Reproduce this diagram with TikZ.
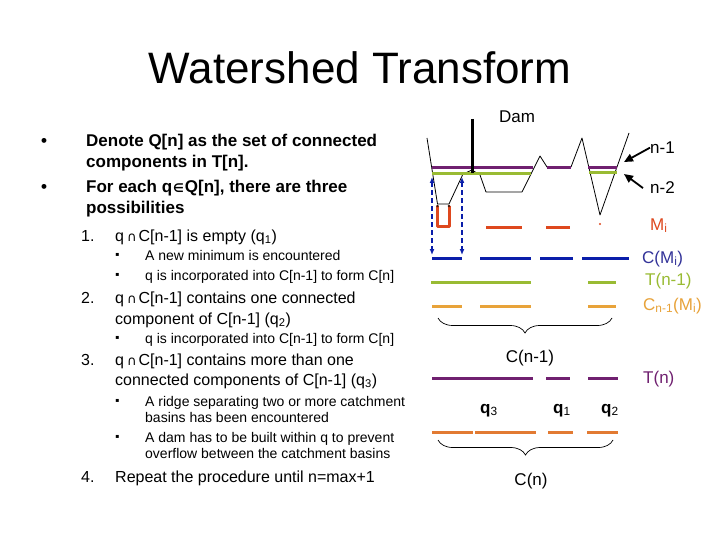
\documentclass[tikz,border=0pt]{standalone}
\usepackage{fontspec}
\setmainfont{Liberation Sans}
\newfontfamily\symfont{DejaVu Sans}
\usepackage{xcolor}
\definecolor{levelpurple}{RGB}{112, 32, 112}
\definecolor{levelgreen}{RGB}{153, 187, 51}
\definecolor{markblue}{RGB}{10, 30, 170}
\definecolor{labelnavy}{RGB}{51, 51, 153}
\definecolor{minred}{RGB}{222, 72, 30}
\definecolor{lightorange}{RGB}{232, 163, 58}
\definecolor{deeporange}{RGB}{226, 122, 50}
\usepackage{tikz}
\usetikzlibrary{arrows.meta,decorations.pathreplacing}
\newcommand{\qcap}{\kern3pt{\symfont\fontsize{13}{13}\selectfont ∩}\kern2pt}
\newcommand{\qin}{\kern1pt{\symfont\fontsize{12}{12}\selectfont ∈}\kern1pt}

\begin{document}
\begin{tikzpicture}[x=1pt, y=-1pt,
    head/.style={anchor=base, inner sep=0pt, font=\fontsize{44}{50}\selectfont},
    ltop/.style={anchor=base west, inner sep=0pt, font=\fontsize{17}{20}\selectfont\bfseries},
    lmid/.style={anchor=base west, inner sep=0pt, font=\fontsize{16}{19}\selectfont},
    llow/.style={anchor=base west, inner sep=0pt, font=\fontsize{14}{16}\selectfont},
    sqbul/.style={inner sep=0pt, font=\symfont\fontsize{6}{6}\selectfont},
    tag/.style={anchor=base west, inner sep=0pt, font=\fontsize{17}{20}\selectfont},
    terrain/.style={black, line width=0.8pt, line join=round},
    surface/.style={line width=3pt},
    gate/.style={markblue, line width=1.4pt, dash pattern=on 5pt off 3pt, {Latex[length=6pt,width=5pt]}-{Latex[length=6pt,width=5pt]}},
    ptr/.style={line width=1.8pt, -{Triangle[length=9pt,width=8pt]}},
    brc/.style={decorate, decoration={brace, mirror, amplitude=15pt}, line width=0.7pt}
]
    \path[fill=white] (0,0) rectangle (720,540);

    % Title
    \node[head] (title) at (360,84) {Watershed Transform};

    % Main bullets
    \node[ltop] (b1) at (41,147) {•};
    \node[ltop] (t1a) at (86,147) {Denote Q[n] as the set of connected};
    \node[ltop] (t1b) at (86,168) {components in T[n].};
    \node[ltop] (b2) at (41,193) {•};
    \node[ltop] (t2a) at (86,193) {For each q\qin Q[n], there are three};
    \node[ltop] (t2b) at (86,214) {possibilities};

    % Numbered cases
    \node[lmid] (n1) at (81,241) {1.};
    \node[lmid] (i1) at (115,241) {q\qcap C[n-1] is empty (q\textsubscript{1})};
    \node[lmid] (n2) at (81,303) {2.};
    \node[lmid] (i2a) at (115,303) {q\qcap C[n-1] contains one connected};
    \node[lmid] (i2b) at (115,324) {component of C[n-1] (q\textsubscript{2})};
    \node[lmid] (n3) at (81,365) {3.};
    \node[lmid] (i3a) at (115,365) {q\qcap C[n-1] contains more than one};
    \node[lmid] (i3b) at (115,385) {connected components of C[n-1] (q\textsubscript{3})};
    \node[lmid] (n4) at (81,482) {4.};
    \node[lmid] (i4) at (115,482) {Repeat the procedure until n=max+1};

    % Sub bullets
    \foreach \yb [count=\k] in {255,275,338,401,437}
        \node[sqbul] (sb\k) at (117.5,\yb) {▪};
    \node[llow] (s1) at (145,260) {A new minimum is encountered};
    \node[llow] (s2) at (145,280) {q is incorporated into C[n-1] to form C[n]};
    \node[llow] (s3) at (145,343) {q is incorporated into C[n-1] to form C[n]};
    \node[llow] (s4a) at (145,406) {A ridge separating two or more catchment};
    \node[llow] (s4b) at (145,422) {basins has been encountered};
    \node[llow] (s5a) at (145,442) {A dam has to be built within q to prevent};
    \node[llow] (s5b) at (145,458) {overflow between the catchment basins};

    % Terrain profile
    \draw[terrain] (427,138) -- (437.5,204) -- (449,204) -- (463,174) -- (472,170) -- (480,175)
        -- (486,192) -- (522,192) -- (540,156) -- (547,167) -- (571,167) -- (582,138)
        -- (600,215) -- (629,133);

    % Flood levels n-1 and n-2
    \foreach \xa/\xb in {432/533, 547/571, 588/617}
        \draw[surface, levelpurple] (\xa,168) -- (\xb,168);
    \draw[surface, levelgreen] (432,174) -- (531,174);
    \draw[surface, levelgreen] (589,173) -- (617,173);

    % Dam
    \draw[black, line width=3pt] (472,119) -- (472,173);
    \node[tag, anchor=base] (dam) at (517,123) {Dam};

    % Level pointers
    \node[tag] (lvla) at (650,153.5) {n-1};
    \coordinate (tipa) at (624,162);
    \draw[ptr] (lvla.west) -- (tipa);
    \node[tag] (lvlb) at (650,194) {n-2};
    \coordinate (tipb) at (624,174);
    \draw[ptr] ([xshift=-7pt]lvlb.west) -- (tipb);

    % Minima M_i
    \draw[surface, minred, line join=round] (437.5,206) -- (437.5,227) -- (449,227) -- (449,206);
    \fill[black!70!minred] (437.5,206) circle (1.4);
    \fill[black!70!minred] (449,206) circle (1.4);
    \draw[surface, minred] (486,228) -- (522,228);
    \draw[surface, minred] (546,228) -- (570,228);
    \fill[minred] (600,224) circle (1.2);
    \node[tag, minred] (mi) at (650,230) {M\textsubscript{i}};

    % C(M_i)
    \draw[gate] (432,177) -- (432,255);
    \draw[gate] (462,177) -- (462,255);
    \foreach \xa/\xb in {432/462, 480/531, 540/573, 582/629}
        \draw[surface, markblue] (\xa,258) -- (\xb,258);
    \node[tag, labelnavy] (cmi) at (642,263) {C(M\textsubscript{i})};

    % T(n-1)
    \foreach \xa/\xb in {431/531, 588/616}
        \draw[surface, levelgreen] (\xa,282) -- (\xb,282);
    \node[tag, levelgreen] (tprev) at (645,285) {T(n-1)};

    % C_{n-1}(M_i)
    \foreach \xa/\xb in {432/462, 480/531, 588/616}
        \draw[surface, lightorange] (\xa,306) -- (\xb,306);
    \node[tag, lightorange] (cnm) at (643,310) {C\textsubscript{n-1}(M\textsubscript{i})};

    % C(n-1)
    \draw[brc] (438,318) -- (612,318);
    \node[tag, anchor=base] (cprev) at (530,362) {C(n-1)};

    % T(n)
    \foreach \xa/\xb in {432/533, 546/570, 588/618}
        \draw[surface, levelpurple] (\xa,378) -- (\xb,378);
    \node[tag, levelpurple] (tnow) at (643,383) {T(n)};
    \node[tag] (q3) at (480,413) {{\bfseries q}\textsubscript{3}};
    \node[tag] (q1) at (553,413) {{\bfseries q}\textsubscript{1}};
    \node[tag] (q2) at (601,413) {{\bfseries q}\textsubscript{2}};

    % C(n)
    \foreach \xa/\xb in {432/473, 475/536, 548/573, 587/618}
        \draw[surface, deeporange] (\xa,432) -- (\xb,432);
    \draw[brc] (438,440) -- (613,440);
    \node[tag, anchor=base] (cnow) at (531,485) {C(n)};
\end{tikzpicture}
\end{document}
